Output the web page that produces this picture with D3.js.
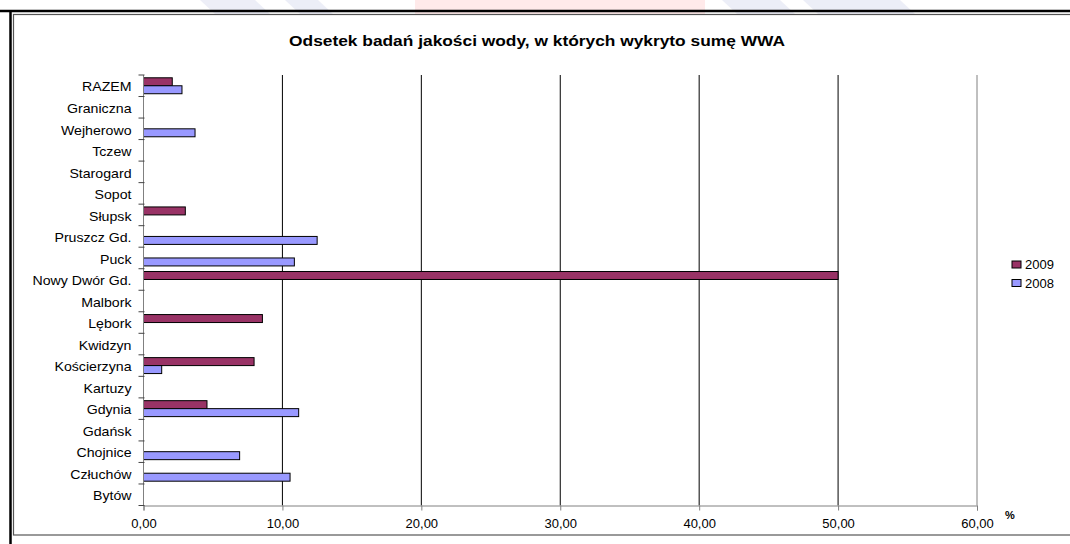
<!DOCTYPE html>
<html>
<head>
<meta charset="utf-8">
<script src="https://d3js.org/d3.v7.min.js"></script>
<style>
  body { margin: 0; background: #fff; }
  svg { display: block; font-family: "Liberation Sans", Arial, sans-serif; }
</style>
</head>
<body>
<svg width="1070" height="544"></svg>
<script>
// categories, bottom to top as in the chart
var cities = ['Bytów', 'Człuchów', 'Chojnice', 'Gdańsk', 'Gdynia', 'Kartuzy', 'Kościerzyna',
  'Kwidzyn', 'Lębork', 'Malbork', 'Nowy Dwór Gd.', 'Puck', 'Pruszcz Gd.', 'Słupsk',
  'Sopot', 'Starogard', 'Tczew', 'Wejherowo', 'Graniczna', 'RAZEM'];
var v2009 = [0, 0, 0, 0, 4.57, 0, 7.96, 0, 8.56, 0, 50, 0, 0, 3.01, 0, 0, 0, 0, 0, 2.07];
var v2008 = [0, 10.55, 6.92, 0, 11.17, 0, 1.31, 0, 0, 0, 0, 10.86, 12.5, 0, 0, 0, 0, 3.71, 0, 2.77];
var seriesNames = ['2009', '2008'];
var xTicks = [0, 10, 20, 30, 40, 50, 60];

var colors = { '2009': '#993366', '2008': '#9999ff' };

var svg = d3.select('svg');

// faint watermark remains at the very top
var wm = svg.append('g').attr('opacity', 0.25);
wm.append('rect').attr('x', 415).attr('y', 0).attr('width', 290).attr('height', 14).attr('fill', '#ffb0b0');
[[200, 255], [285, 318], [722, 780], [803, 900]].forEach(function(p) {
  wm.append('polygon')
    .attr('points', p[0] + ',0 ' + p[1] + ',0 ' + (p[1] + 15) + ',14 ' + (p[0] + 15) + ',14')
    .attr('fill', '#b8bde0');
});

// frame
svg.append('line').attr('x1', 0).attr('x2', 1070).attr('y1', 11).attr('y2', 11)
  .attr('stroke', '#000').attr('stroke-width', 2.5);
svg.append('line').attr('x1', 10.5).attr('x2', 10.5).attr('y1', 10).attr('y2', 544)
  .attr('stroke', '#000').attr('stroke-width', 2.5);
svg.append('rect').attr('x', 13.5).attr('y', 14.5).attr('width', 1070).attr('height', 520.5)
  .attr('fill', 'none').attr('stroke', '#555').attr('stroke-width', 1.2);

// title (source picture is stretched horizontally)
svg.append('text')
  .attr('transform', 'translate(537,46) scale(1.24,1)')
  .attr('text-anchor', 'middle')
  .attr('font-size', 14).attr('font-weight', 'bold')
  .text('Odsetek badań jakości wody, w których wykryto sumę WWA');

var x = d3.scaleLinear().domain([0, 60]).range([143.5, 977]);
var y = d3.scaleBand().domain(cities).range([505.5, 75]).padding(0);
var inner = d3.scaleBand().domain(seriesNames).range([0, y.bandwidth()]).paddingInner(0).paddingOuter(0.35);

// gridlines
svg.append('g').selectAll('line')
  .data(xTicks.slice(1))
  .enter().append('line')
  .attr('x1', d => x(d)).attr('x2', d => x(d))
  .attr('y1', 75).attr('y2', 505.5)
  .attr('stroke', d => d === 60 ? '#808080' : '#000')
  .attr('stroke-width', 1);

// bars
var rows = cities.map(function(c, i) {
  return { city: c, values: [{ s: '2009', v: v2009[i] }, { s: '2008', v: v2008[i] }] };
});
var groups = svg.append('g').selectAll('g')
  .data(rows).enter().append('g')
  .attr('transform', d => 'translate(0,' + y(d.city) + ')');
groups.selectAll('rect')
  .data(d => d.values.filter(e => e.v > 0))
  .enter().append('rect')
  .attr('x', x(0))
  .attr('y', d => inner(d.s))
  .attr('width', d => x(d.v) - x(0))
  .attr('height', inner.bandwidth())
  .attr('fill', d => colors[d.s])
  .attr('stroke', '#000').attr('stroke-width', 1);

// x axis
var xAxis = svg.append('g')
  .attr('transform', 'translate(0,505.5)')
  .call(d3.axisBottom(x).tickValues(xTicks).tickSize(5).tickPadding(8)
    .tickFormat(d => d3.format('.2f')(d).replace('.', ',')));
xAxis.attr('font-size', 13).attr('font-family', null);
xAxis.select('.domain').attr('stroke', '#808080');
xAxis.selectAll('line').attr('stroke', '#808080');
xAxis.selectAll('text').attr('fill', '#000');

// y axis with ticks between categories
var yg = svg.append('g').attr('transform', 'translate(143.5,0)');
yg.append('line').attr('x1', 0).attr('x2', 0).attr('y1', 75).attr('y2', 505.5)
  .attr('stroke', '#808080');
yg.selectAll('line.tick')
  .data(cities.concat(['top']))
  .enter().append('line')
  .attr('class', 'tick')
  .attr('x1', -5).attr('x2', 1)
  .attr('y1', d => d === 'top' ? 75 : y(d) + y.bandwidth())
  .attr('y2', d => d === 'top' ? 75 : y(d) + y.bandwidth())
  .attr('stroke', '#444');
yg.selectAll('text')
  .data(cities).enter().append('text')
  .attr('transform', d => 'translate(-12,' + (y(d) + y.bandwidth() / 2 + 1.5) + ') scale(1.18,1)')
  .attr('dy', '0.35em')
  .attr('text-anchor', 'end')
  .attr('font-size', 12)
  .text(d => d);

// unit label
svg.append('text').attr('x', 1005).attr('y', 519)
  .attr('font-size', 11).attr('font-weight', 'bold').text('%');

// legend
var legend = svg.append('g').selectAll('g')
  .data(seriesNames).enter().append('g')
  .attr('transform', (d, i) => 'translate(1012,' + (264.5 + i * 18.5) + ')');
legend.append('rect')
  .attr('x', 0).attr('y', -3.5).attr('width', 9).attr('height', 7)
  .attr('fill', d => colors[d]).attr('stroke', '#000');
legend.append('text')
  .attr('x', 13).attr('y', 0).attr('dy', '0.35em')
  .attr('font-size', 13).text(d => d);
</script>
</body>
</html>
